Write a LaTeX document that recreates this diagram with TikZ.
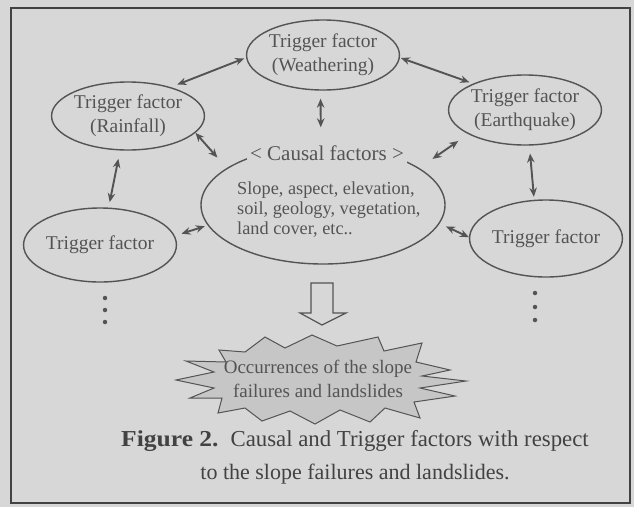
\documentclass[tikz,border=0pt]{standalone}
\usepackage{fontspec}
\setmainfont{Liberation Serif}
\usetikzlibrary{shapes.geometric,arrows.meta}
\definecolor{paper}{HTML}{D7D7D7}
\definecolor{ink}{HTML}{545454}
\definecolor{inkdark}{HTML}{424242}
\definecolor{burst}{HTML}{C6C6C6}
\tikzset{
  trig/.style={ellipse, draw=ink, line width=1.4pt, text=ink, align=center,
    inner sep=0pt, font=\fontsize{19.5}{24}\selectfont},
  link/.style={draw=ink, line width=1.9pt,
    {Stealth[length=9pt,width=7.5pt]}-{Stealth[length=9pt,width=7.5pt]}},
  dot/.style={circle, fill=ink, inner sep=0pt, minimum size=4.5pt},
  captext/.style={text=inkdark, inner sep=0pt},
}
\begin{document}
\begin{tikzpicture}[x=1pt,y=-1pt]
\fill[paper] (0,0) rectangle (634,507);
\useasboundingbox (0,0) rectangle (634,507);
\draw[inkdark, line width=1.6pt] (11,8) rectangle (630,503);

% trigger factors
\node[trig, minimum width=138, minimum height=70] (weath) at (323,55) {Trigger factor\\(Weathering)};
\node[trig, minimum width=136, minimum height=68] (rain) at (128,116) {Trigger factor\\(Rainfall)};
\node[trig, minimum width=140, minimum height=70] (quake) at (525,110) {Trigger factor\\(Earthquake)};
\node[trig, minimum width=130, minimum height=74] (bl) at (100,245) {Trigger factor};
\node[trig, minimum width=136, minimum height=77] (br) at (546,238.5) {Trigger factor};

% causal factors
\node[ellipse, draw=ink, line width=1.4pt, minimum width=244, minimum height=118] (causal) at (323,205) {};
\node[fill=paper, text=ink, font=\fontsize{21}{24}\selectfont, inner sep=3pt] (ctitle) at (327,153) {< Causal factors >};
\node[anchor=west, align=left, text=ink, font=\fontsize{18.3}{20}\selectfont, inner sep=0pt] (cbody) at (237,210)
  {Slope, aspect, elevation,\\soil, geology, vegetation,\\land cover, etc..};

% links
\draw[link, shorten <=7, shorten >=2] (rain.34) -- (weath.182);
\draw[link, shorten <=1, shorten >=4] (weath.-2) -- (quake.153);
\draw[link, shorten <=8, shorten >=18] (weath.266) -- (causal.92);
\draw[link, shorten <=0, shorten >=14] (rain.-14) -- (causal.159);
\draw[link, shorten <=8.5, shorten >=5.5] (rain.257) -- (bl.77);
\draw[link, shorten <=7, shorten >=3] (bl.7) -- (causal.190);
\draw[link, shorten <=12, shorten >=16] (quake.203) -- (causal.21);
\draw[link, shorten <=8, shorten >=3] (quake.277) -- (br.107);
\draw[link, shorten <=7, shorten >=0] (causal.-9) -- (br.179);

% more factors
\node[dot] (bla) at (105,298) {};
\node[dot] (blb) at (105,310) {};
\node[dot] (blc) at (105,322) {};
\node[dot] (bra) at (535,293) {};
\node[dot] (brb) at (535,307) {};
\node[dot] (brc) at (535,320) {};

% block arrow
\draw[ink, line width=1.2pt, fill=paper] (311,283) -- (333,283) -- (333,313) -- (346,313)
  -- (322,325) -- (300,313) -- (311,313) -- cycle;

% burst
\draw[draw=ink, line width=1pt, fill=burst]
  (219,350) -- (245,352) -- (265,337) -- (285,348) -- (312,335) -- (337,346)
  -- (378,337) -- (384,351) -- (422,343) -- (416,362) -- (450,370) -- (422,376)
  -- (466,381) -- (420,388) -- (455,396) -- (414,402) -- (420,418) -- (385,408)
  -- (370,422) -- (340,410) -- (315,424) -- (290,411) -- (262,421) -- (245,408)
  -- (218,413) -- (222,398) -- (190,398) -- (214,388) -- (176,380) -- (214,372)
  -- (186,361) -- (226,362) -- cycle;
\node[text=ink, align=center, font=\fontsize{19}{24}\selectfont, inner sep=0pt] (occ) at (318,379)
  {Occurrences of the slope\\failures and landslides};

% caption
\node[captext, font=\fontsize{22.8}{33}\selectfont] (cap1) at (355,441)
  {\textbf{\scalebox{1.12}[1]{Figure 2.}}\hspace{12pt}Causal and Trigger factors with respect};
\node[captext, font=\fontsize{22}{33}\selectfont] (cap2) at (355,474)
  {to the slope failures and landslides.};
\end{tikzpicture}
\end{document}
